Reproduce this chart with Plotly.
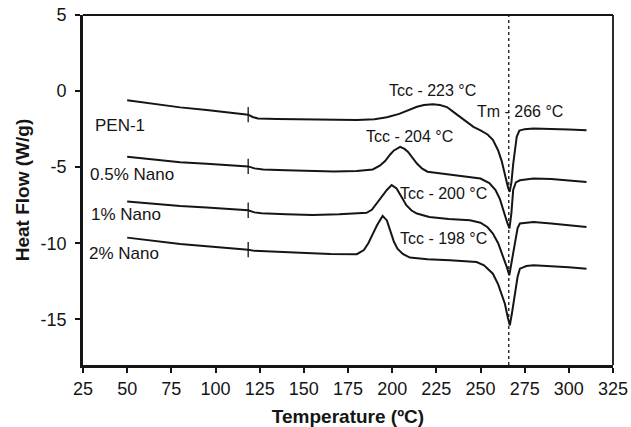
import plotly.graph_objects as go

# DSC heating scans (heat flow vs temperature)
pen1_t = [50, 65, 80, 95, 110, 118.5, 121, 124, 135, 150, 165, 180, 190, 197, 204, 210, 214, 218, 223,
          227, 231, 235, 238.5, 242, 246, 250, 254, 257, 260, 262, 264, 265.5, 266.5, 267.5, 268.5,
          269.5, 270.5, 272, 275, 280, 290, 300, 310]
pen1_hf = [-0.6, -0.85, -1.07, -1.25, -1.42, -1.55, -1.7, -1.8, -1.83, -1.86, -1.9, -1.9, -1.85, -1.72,
           -1.5, -1.2, -1.03, -0.92, -0.86, -0.92, -1.05, -1.4, -1.7, -2.0, -2.35, -2.58, -2.85, -3.2,
           -3.9, -4.6, -5.6, -6.3, -6.62, -6.0, -4.8, -3.9, -3.0, -2.6, -2.5, -2.46, -2.48, -2.52, -2.57]

nano05_t = [50, 65, 80, 95, 110, 118.5, 122, 127, 140, 155, 167, 180, 189, 193, 196, 199, 201, 204.5,
            207, 209, 211.5, 214, 217, 220, 230, 244, 250, 255, 258.5, 261, 263, 265, 266.4, 267.5,
            268.5, 270, 272.3, 280, 290, 300, 310]
nano05_hf = [-4.32, -4.5, -4.68, -4.78, -4.88, -4.95, -5.08, -5.15, -5.2, -5.27, -5.28, -5.25, -5.15,
             -4.9, -4.6, -4.15, -3.9, -3.66, -3.8, -4.0, -4.4, -4.76, -5.1, -5.3, -5.45, -5.64, -5.75,
             -6.05, -6.5, -7.1, -7.9, -8.6, -9.03, -8.0, -6.5, -6.0, -5.86, -5.75, -5.78, -5.88, -5.97]

nano1_t = [50, 65, 80, 95, 110, 118.5, 122, 126, 140, 155, 170, 185.5, 188.5, 191, 194, 197, 199.7,
           202.5, 205, 208, 211, 214, 221, 232, 244, 250, 254, 257, 260, 263, 265, 266.3, 267.5, 268.5,
           269.5, 271, 272.3, 280, 290, 300, 310]
nano1_hf = [-7.25, -7.42, -7.55, -7.65, -7.75, -7.83, -7.97, -8.02, -8.1, -8.15, -8.1, -8.0, -7.8, -7.4,
            -6.9, -6.5, -6.18, -6.4, -6.9, -7.5, -7.85, -8.05, -8.27, -8.4, -8.49, -8.65, -8.95, -9.36,
            -10.0, -10.9, -11.6, -12.1, -11.3, -10.4, -9.8, -9.0, -8.7, -8.6, -8.7, -8.82, -8.93]

nano2_t = [50, 65, 80, 95, 110, 118.5, 122, 130, 148, 165, 180, 184, 186.5, 189, 191.5, 194.6, 197, 199,
           201, 203, 206, 210, 220, 232.7, 247.8, 252, 257, 260, 263.8, 265.5, 266.6, 267.8, 269.5, 271,
           272.3, 276, 280, 290, 300, 310]
nano2_hf = [-9.63, -9.85, -10.05, -10.2, -10.33, -10.42, -10.5, -10.55, -10.62, -10.7, -10.72, -10.45,
            -10.0, -9.4, -8.8, -8.2, -8.5, -9.2, -9.9, -10.35, -10.7, -10.94, -11.05, -11.12, -11.23,
            -11.45, -12.0, -12.7, -13.97, -14.9, -15.4, -14.6, -13.3, -12.2, -11.67, -11.5, -11.45,
            -11.5, -11.58, -11.67]

series_names = ["PEN-1", "0.5% Nano", "1% Nano", "2% Nano"]
curves = [(pen1_t, pen1_hf), (nano05_t, nano05_hf), (nano1_t, nano1_hf), (nano2_t, nano2_hf)]

# glass-transition markers on each scan
tg_temp = 118.5
tg_hf = [-1.55, -4.95, -7.83, -10.42]

# cold-crystallisation and melting temperatures
tcc_values = [223, 204, 200, 198]
tm_value = 266

x_ticks = [25, 50, 75, 100, 125, 150, 175, 200, 225, 250, 275, 300, 325]
y_ticks = [-15, -10, -5, 0, 5]

FONT = "Liberation Sans, Arial, sans-serif"
INK = "#151515"

fig = go.Figure()

for name, (t, hf) in zip(series_names, curves):
    fig.add_trace(go.Scatter(x=t, y=hf, mode="lines", name=name,
                             line=dict(color=INK, width=2), showlegend=False))

fig.add_trace(go.Scatter(x=[tg_temp] * len(tg_hf), y=tg_hf, mode="markers", showlegend=False,
                         marker=dict(symbol="line-ns", size=11,
                                     line=dict(color=INK, width=1.3))))

# melting-point guide
fig.add_shape(type="line", xref="x", yref="paper", x0=tm_value, x1=tm_value, y0=0, y1=1,
              line=dict(color=INK, width=1.3, dash="dot"))

# thin frame on top and right
fig.add_shape(type="line", xref="paper", yref="paper", x0=0, x1=1, y0=1, y1=1,
              line=dict(color=INK, width=1.8))
fig.add_shape(type="line", xref="paper", yref="paper", x0=1, x1=1, y0=0, y1=1,
              line=dict(color=INK, width=1.8))

series_label_pos = [(30.4, -2.24), (28.0, -5.46), (28.4, -8.09), (27.4, -10.64)]
for name, (lx, ly) in zip(series_names, series_label_pos):
    fig.add_annotation(x=lx, y=ly, text=name, showarrow=False, xanchor="left", yanchor="middle",
                       font=dict(family=FONT, size=17, color=INK))

tcc_label_pos = [(223, 0.07), (210, -3.0), (228.8, -6.73), (228.8, -9.69)]
for val, (lx, ly) in zip(tcc_values, tcc_label_pos):
    fig.add_annotation(x=lx, y=ly, text=f"Tcc - {val} °C", showarrow=False,
                       xanchor="center", yanchor="middle",
                       font=dict(family=FONT, size=16, color=INK))

fig.add_annotation(x=272.5, y=-1.36, text=f"Tm - {tm_value} °C", showarrow=False,
                   xanchor="center", yanchor="middle", font=dict(family=FONT, size=16, color=INK))

fig.update_xaxes(range=[25, 325], tickvals=x_ticks, ticktext=[str(v) for v in x_ticks],
                 showline=True, linecolor=INK, linewidth=2.6, ticks="outside", ticklen=5,
                 tickwidth=1.5, tickcolor=INK, showgrid=False, zeroline=False,
                 ticklabelstandoff=1, automargin=False,
                 tickfont=dict(family=FONT, size=18, color=INK),
                 title=dict(text="<b>Temperature (ºC)</b>", standoff=12,
                            font=dict(family=FONT, size=19, color=INK)))
fig.update_yaxes(range=[-18, 5], tickvals=y_ticks, ticktext=[str(v) for v in y_ticks],
                 showline=True, linecolor=INK, linewidth=2.6, ticks="outside", ticklen=5,
                 tickwidth=1.5, tickcolor=INK, showgrid=False, zeroline=False,
                 ticklabelstandoff=5, automargin=False,
                 tickfont=dict(family=FONT, size=18, color=INK),
                 title=dict(text="<b>Heat Flow (W/g)</b>", standoff=6,
                            font=dict(family=FONT, size=19, color=INK)))

fig.update_layout(width=631, height=427, margin=dict(l=83, r=18, t=15, b=62),
                  paper_bgcolor="white", plot_bgcolor="white",
                  font=dict(family=FONT, color=INK))

fig.write_html("out.html")
